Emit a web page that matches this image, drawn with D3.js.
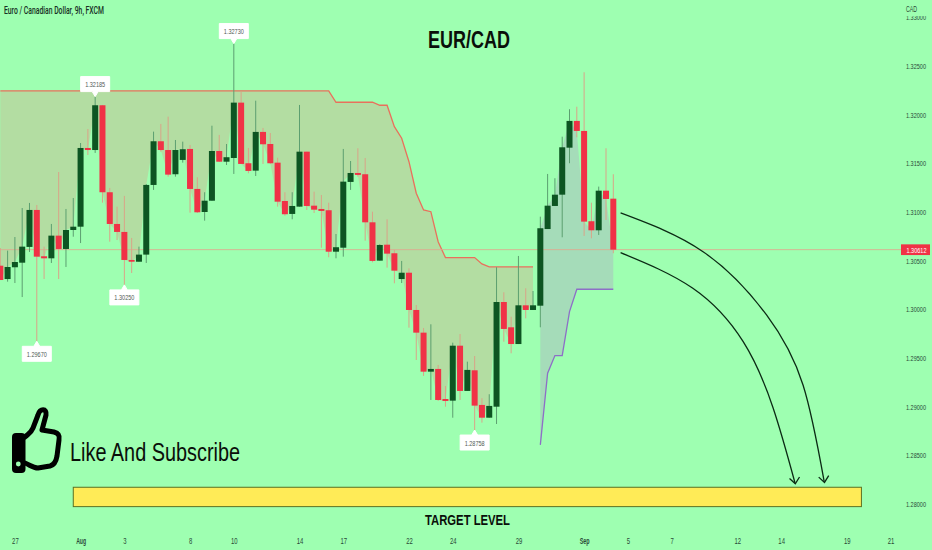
<!DOCTYPE html>
<html>
<head>
<meta charset="utf-8">
<script src="https://cdn.jsdelivr.net/npm/d3@7"></script>
<style>
body { margin: 0; background: #9effb1; overflow: hidden; }
svg { display: block; }
text { font-family: Roboto, "Liberation Sans", sans-serif; }
.narrow, .tick text { font-family: "Liberation Sans Narrow", "Liberation Sans", sans-serif; }
</style>
</head>
<body>
<svg id="graph" width="932" height="550"></svg>
<script>
var width = 932, height = 550, bg = "#9effb1"

// candles, one per 9h bar
var opens = [1.30447,1.3031,1.30431,1.30478,1.3064,1.3102,1.30544,1.30523,1.30756,1.30619,
  1.30814,1.30848,1.31657,1.31636,1.32096,1.31202,1.30876,1.30794,1.30506,1.30488,
  1.30561,1.31277,1.31726,1.31636,1.31387,1.31534,1.31647,1.31236,1.30999,1.31115,
  1.31626,1.31516,1.31554,1.32123,1.315,1.31424,1.31822,1.31698,1.31506,1.31112,
  1.30979,1.31054,1.31619,1.31064,1.3103,1.31017,1.30591,1.30632,1.31308,1.314,
  1.31387,1.30893,1.30499,1.30663,1.30575,1.3031,1.30375,1.29992,1.29759,1.29358,
  1.29386,1.29077,1.2906,1.29625,1.2916,1.29372,1.29016,1.28885,1.28998,1.30074,
  1.29814,1.29642,1.3004,1.29992,1.30036,1.30824,1.31061,1.31177,1.3166,1.31935,
  1.31832,1.30904,1.30811,1.31218,1.31136]
var highs = [1.30629,1.30602,1.30742,1.3104,1.31092,1.31071,1.30643,1.30876,1.3141,1.3103,
  1.31143,1.31708,1.31852,1.32185,1.32099,1.31246,1.31054,1.31164,1.30732,1.30643,
  1.31287,1.31825,1.31904,1.31979,1.31739,1.31722,1.31688,1.31356,1.31202,1.31886,
  1.31791,1.31698,1.3273,1.32236,1.31657,1.32143,1.31863,1.31811,1.31557,1.31202,
  1.31202,1.32099,1.31619,1.31208,1.31174,1.31095,1.30773,1.31647,1.31523,1.31654,
  1.31554,1.31002,1.30667,1.30924,1.30609,1.30496,1.3042,1.30043,1.29807,1.29845,
  1.29427,1.29211,1.29656,1.29745,1.29461,1.29519,1.29085,1.29126,1.30431,1.30174,
  1.29923,1.30547,1.30215,1.30187,1.30951,1.3139,1.31346,1.31773,1.32055,1.32081,
  1.32435,1.31095,1.3126,1.31654,1.31387]
var lows = [1.303,1.30283,1.30269,1.30125,1.30588,1.2967,1.3031,1.30475,1.3031,1.30434,
  1.30745,1.3068,1.31585,1.31606,1.31095,1.30694,1.30711,1.3025,1.30372,1.30488,
  1.30475,1.31226,1.31619,1.31362,1.31362,1.31506,1.30992,1.30989,1.3091,1.31115,
  1.31516,1.31482,1.3139,1.31493,1.31397,1.31369,1.31493,1.31493,1.31054,1.30961,
  1.30924,1.31054,1.3102,1.30989,1.30632,1.30534,1.30523,1.3054,1.31226,1.31362,
  1.30704,1.30482,1.30499,1.30427,1.30266,1.30269,1.2981,1.29478,1.29314,1.29067,
  1.29057,1.28998,1.28885,1.29067,1.2916,1.28758,1.28834,1.28885,1.2882,1.29666,
  1.29547,1.29642,1.29906,1.29992,1.29814,1.30824,1.31061,1.30739,1.315,1.31767,
  1.30753,1.30729,1.30763,1.30917,1.30575]
var closes = [1.303,1.30434,1.30485,1.30643,1.3102,1.3054,1.30523,1.30756,1.30619,1.30814,
  1.30848,1.31657,1.31636,1.32096,1.31202,1.30876,1.30794,1.30506,1.30488,1.30561,
  1.31277,1.31726,1.31636,1.31383,1.31636,1.31644,1.31236,1.30996,1.31115,1.31626,
  1.31516,1.31562,1.32123,1.31493,1.31421,1.31822,1.31695,1.315,1.31105,1.30976,
  1.31061,1.31619,1.31061,1.31023,1.3101,1.30591,1.30637,1.31311,1.314,1.3138,
  1.30893,1.30496,1.3066,1.30571,1.30396,1.30375,1.29992,1.29759,1.29358,1.29386,
  1.29067,1.29057,1.29625,1.2916,1.29376,1.29009,1.28885,1.29006,1.30074,1.29797,
  1.29642,1.3004,1.29992,1.3004,1.30832,1.31064,1.31177,1.31664,1.31935,1.31832,
  1.309,1.30811,1.31218,1.31133,1.30612]

// red band, bars 0-73
var upperBand = [1.32243,1.32243,1.32243,1.32243,1.32243,1.32243,1.32243,1.32243,1.32243,1.32243,
  1.32243,1.32243,1.32243,1.32243,1.32243,1.32243,1.32243,1.32243,1.32243,1.32243,
  1.32243,1.32243,1.32243,1.32243,1.32243,1.32243,1.32243,1.32243,1.32243,1.32243,
  1.32243,1.32243,1.32243,1.32243,1.32243,1.32243,1.32243,1.32243,1.32243,1.32243,
  1.32243,1.32243,1.32243,1.32243,1.32243,1.32243,1.32127,1.32127,1.32127,1.32127,
  1.32127,1.32127,1.32096,1.32096,1.31876,1.31757,1.31516,1.31192,1.3102,1.31002,
  1.30694,1.3053,1.3053,1.3053,1.3053,1.3053,1.30465,1.30434,1.30434,1.30434,
  1.30434,1.30434,1.30434,1.30434]
// purple band, bars 74-84
var lowerBand = [1.28605,1.29342,1.29523,1.29523,1.29975,1.30205,1.30205,1.30205,1.30205,1.30205,1.30205]
var lowerStart = 74

var priceTicks = [1.28,1.285,1.29,1.295,1.3,1.305,1.31,1.315,1.32,1.325,1.33]
var dateBars = [2,11,17,26,32,41,47,56,62,71,80,86,92,101,107,116,122]
var dateLabels = ["27","Aug","3","8","10","14","17","22","24","29","Sep","5","7","12","14","19","21"]
var boldDates = ["Aug","Sep"]

var lastPrice = 1.30612
// swing labels: bar, price, which side of the candle
var calloutBars = [13,32,5,17,65]
var calloutPrices = [1.32185,1.3273,1.2967,1.3025,1.28758]
var calloutUp = [true,true,false,false,false]

var targetBars = [10,118]
var targetPrices = [1.2817,1.27971]
// forecast arcs, [bar, price]
var arcUpper = [[85,1.30989],[96.3,1.30591],[105,1.29941],[110,1.29221],[112.9,1.28228]]
var arcLower = [[85,1.30581],[94.9,1.30215],[101.8,1.29666],[105.9,1.28985],[108.9,1.28214]]

var svg = d3.select("#graph")
var x = d3.scaleLinear().domain([0, 84]).range([0.3, 613.3])
var y = d3.scaleLinear().domain([1.28, 1.33]).range([503.8, 17.3])

var bars = d3.range(opens.length)
var green = "#0d5522", red = "#f03246"

// bands
var upperArea = d3.area().x(d => x(d)).y0(d => y(closes[d])).y1(d => y(upperBand[d]))
var lowerArea = d3.area().x(d => x(d)).y0(d => y(lowerBand[d - lowerStart])).y1(d => y(closes[d]))

svg.append("path").datum(bars.slice(0, upperBand.length))
  .attr("d", upperArea).attr("fill", "#b3dda2")
svg.append("path").datum(bars.slice(lowerStart))
  .attr("d", lowerArea).attr("fill", "#a5dcb9")

svg.append("path").datum(upperBand)
  .attr("d", d3.line().x((d, i) => x(i)).y(d => y(d)))
  .attr("fill", "none").attr("stroke", "#e9705c").attr("stroke-width", 1.3)
svg.append("path").datum(lowerBand)
  .attr("d", d3.line().x((d, i) => x(i + lowerStart)).y(d => y(d)))
  .attr("fill", "none").attr("stroke", "#8d6fc6").attr("stroke-width", 1.3)

// last price line
svg.append("line")
  .attr("x1", 0).attr("x2", 901).attr("y1", y(lastPrice)).attr("y2", y(lastPrice))
  .attr("stroke", "#e3a78f").attr("stroke-width", 1).attr("opacity", 0.8)

// candles
svg.selectAll(".wick").data(bars).enter().append("line")
  .attr("class", "wick")
  .attr("x1", d => x(d)).attr("x2", d => x(d))
  .attr("y1", d => y(highs[d])).attr("y2", d => y(lows[d]))
  .attr("stroke", d => closes[d] >= opens[d] ? "#5c9f70" : "#d9a488")
  .attr("stroke-width", 1)
svg.selectAll(".body").data(bars).enter().append("rect")
  .attr("class", "body")
  .attr("x", d => x(d) - 3)
  .attr("width", 6)
  .attr("y", d => y(Math.max(opens[d], closes[d])))
  .attr("height", d => Math.max(1.5, Math.abs(y(opens[d]) - y(closes[d]))))
  .attr("fill", d => closes[d] >= opens[d] ? green : red)

// target zone
svg.append("rect")
  .attr("x", x(targetBars[0])).attr("width", x(targetBars[1]) - x(targetBars[0]))
  .attr("y", y(targetPrices[0])).attr("height", y(targetPrices[1]) - y(targetPrices[0]))
  .attr("fill", "#ffeb57").attr("stroke", "#5d7020").attr("stroke-width", 1)

// arcs with open arrow heads
var arcLine = d3.line().x(d => x(d[0])).y(d => y(d[1])).curve(d3.curveNatural)
;[arcUpper, arcLower].forEach(function (arc) {
  svg.append("path").datum(arc).attr("d", arcLine)
    .attr("fill", "none").attr("stroke", "#0b2a14").attr("stroke-width", 1.3)
  var tip = arc[arc.length - 1]
  var tx = x(tip[0]), ty = y(tip[1])
  svg.append("path")
    .attr("d", "M" + (tx - 5.5) + "," + (ty - 4.5) + "L" + (tx + 0.3) + "," + (ty + 0.8) + "L" + (tx + 4.5) + "," + (ty - 6))
    .attr("fill", "none").attr("stroke", "#0b2a14").attr("stroke-width", 1.3)
})

// swing labels
calloutPrices.forEach(function (p, i) {
  var cx = x(calloutBars[i]), cy = y(p), up = calloutUp[i]
  var s = up ? -1 : 1
  var near = cy + s * 5, far = cy + s * 20
  var d = "M" + cx + "," + cy + "L" + (cx + 3) + "," + near + "L" + (cx + 14.5) + "," + near +
    "L" + (cx + 14.5) + "," + far + "L" + (cx - 14.5) + "," + far +
    "L" + (cx - 14.5) + "," + near + "L" + (cx - 3) + "," + near + "Z"
  svg.append("path").attr("d", d).attr("fill", "#fff").attr("stroke", "#fff")
    .attr("stroke-width", 1).attr("stroke-linejoin", "round")
  svg.append("text").attr("class", "narrow").attr("x", cx).attr("y", (near + far) / 2 + 3)
    .attr("text-anchor", "middle").attr("font-size", 8).attr("fill", "#505a55")
    .attr("textLength", 20).attr("lengthAdjust", "spacingAndGlyphs")
    .text(p.toFixed(5))
})

// price axis, labels anchored on their right end
var yAxis = svg.append("g").attr("transform", "translate(906,0)")
  .call(d3.axisRight(y).tickValues(priceTicks).tickSize(0).tickPadding(0).tickFormat(d3.format(".5f")))
yAxis.select(".domain").remove()
yAxis.selectAll("text").attr("x", 20).attr("text-anchor", "end")
  .attr("font-size", 8).attr("fill", "#2a4a38")
  .attr("textLength", 20).attr("lengthAdjust", "spacingAndGlyphs")
svg.append("rect").attr("x", 890).attr("y", 0).attr("width", 42).attr("height", 16).attr("fill", bg)
svg.append("text").attr("class", "narrow").attr("x", 906).attr("y", 11.5).attr("font-size", 8.5).attr("fill", "#2a4a38")
  .attr("textLength", 11).attr("lengthAdjust", "spacingAndGlyphs").text("CAD")

// last price tag
svg.append("rect").attr("x", 901).attr("y", y(lastPrice) - 5.3).attr("width", 29).attr("height", 10.7).attr("fill", red)
svg.append("text").attr("class", "narrow").attr("x", 926.5).attr("y", y(lastPrice) + 3)
  .attr("text-anchor", "end").attr("font-size", 8).attr("fill", "#fff")
  .attr("textLength", 20).attr("lengthAdjust", "spacingAndGlyphs").text(lastPrice.toFixed(5))

// date axis
var xAxis = svg.append("g").attr("transform", "translate(0,538)")
  .call(d3.axisBottom(x).tickValues(dateBars).tickSize(0).tickPadding(0)
    .tickFormat((d, i) => dateLabels[i]))
xAxis.select(".domain").remove()
xAxis.selectAll("text").attr("font-size", 8.5).attr("fill", "#2a4a38")
  .attr("font-weight", d => boldDates.includes(dateLabels[dateBars.indexOf(d)]) ? "bold" : "normal")
  .attr("textLength", d => dateLabels[dateBars.indexOf(d)].length * 3.3)
  .attr("lengthAdjust", "spacingAndGlyphs")

// header and drawn text
svg.append("text").attr("x", 4).attr("y", 14).attr("font-size", 10).attr("font-weight", 500)
  .attr("fill", "#173024").attr("textLength", 100).attr("lengthAdjust", "spacingAndGlyphs")
  .text("Euro / Canadian Dollar, 9h, FXCM")
svg.append("text").attr("class", "narrow").attr("x", 428).attr("y", 47.5)
  .attr("font-size", 24).attr("font-weight", "bold").attr("fill", "#0a0f0a")
  .attr("textLength", 82).attr("lengthAdjust", "spacingAndGlyphs").text("EUR/CAD")
svg.append("text").attr("class", "narrow").attr("x", 425).attr("y", 525)
  .attr("font-size", 14).attr("font-weight", "bold").attr("fill", "#0a0f0a")
  .attr("textLength", 85).attr("lengthAdjust", "spacingAndGlyphs").text("TARGET LEVEL")
svg.append("text").attr("class", "narrow").attr("x", 70).attr("y", 461)
  .attr("font-size", 26).attr("fill", "#0a0f0a")
  .attr("textLength", 170).attr("lengthAdjust", "spacingAndGlyphs").text("Like And Subscribe")

// thumb icon
svg.append("path")
  .attr("d", "M25,437 C28,434 31,433 33,428 L38,415 C40,408 47,408 46,415 L42,430 L54,432 C58,433 60,435 59,440 L57,456 C56,462 54,465 50,466 L38,468 C33,468 30,465 25,463")
  .attr("fill", "none").attr("stroke", "#000").attr("stroke-width", 5).attr("stroke-linecap", "round").attr("stroke-linejoin", "round")
svg.append("rect").attr("x", 12).attr("y", 433).attr("width", 13.5).attr("height", 40).attr("rx", 4).attr("fill", "#000")
svg.append("circle").attr("cx", 18.3).attr("cy", 464).attr("r", 2.4).attr("fill", bg)
</script>
</body>
</html>
